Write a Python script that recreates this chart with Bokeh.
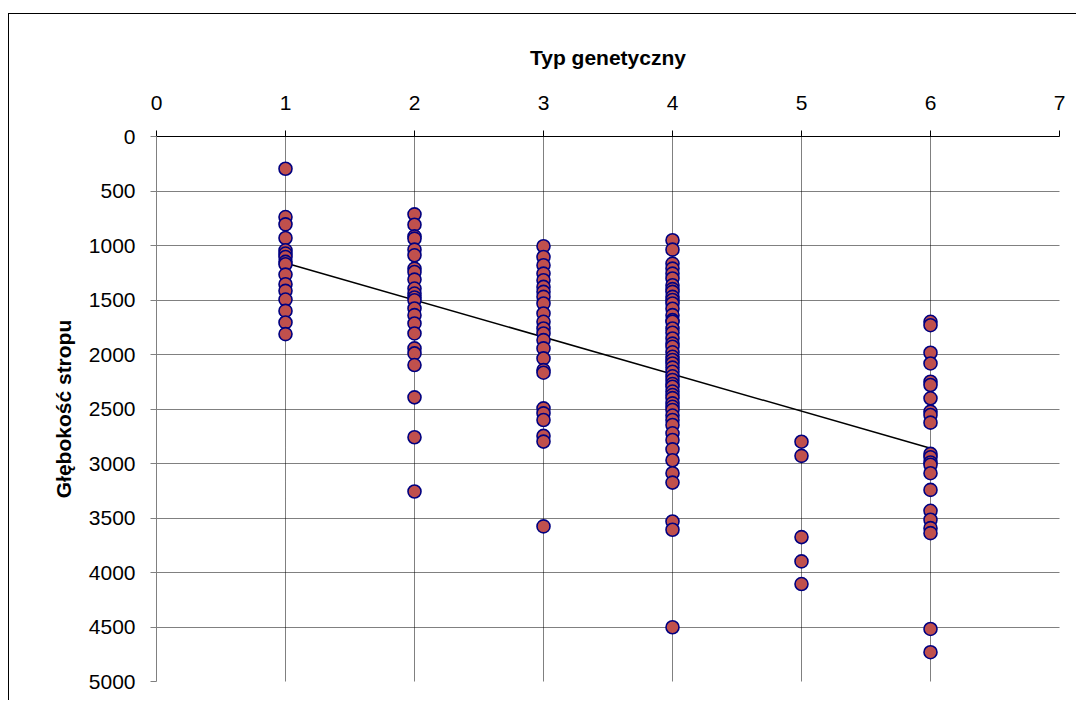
from bokeh.plotting import figure
from bokeh.models import Range1d, FixedTicker, ColumnDataSource
from bokeh.embed import file_html
from bokeh.resources import INLINE

# Depths (Głębokość stropu) for each genetic type (Typ genetyczny)
typ1 = [296, 739, 806, 931, 1044, 1074, 1105, 1150, 1172, 1267, 1355, 1416, 1496, 1600, 1706, 1813]
typ2 = [714, 809, 916, 937, 1038, 1090, 1212, 1243, 1313, 1395, 1441, 1477, 1502, 1578,
        1639, 1715, 1807, 1944, 1990, 2097, 2393, 2759, 3257]
typ3 = [1007, 1105, 1181, 1258, 1319, 1380, 1425, 1471, 1532, 1624, 1700, 1761, 1807,
        1868, 1944, 2036, 2143, 2167, 2494, 2540, 2601, 2747, 2799, 3577]
typ4 = [952, 1038, 1166, 1212, 1258, 1303, 1364, 1400, 1425, 1471, 1500, 1532, 1580, 1639,
        1685, 1700, 1761, 1800, 1853, 1900, 1929, 1980, 2021, 2050, 2082, 2120, 2158, 2200,
        2234, 2270, 2296, 2340, 2372, 2400, 2448, 2480, 2509, 2560, 2601, 2647, 2723, 2784,
        2870, 2970, 3089, 3175, 3532, 3608, 4502]
typ5 = [2800, 2930, 3675, 3898, 4106]
typ6 = [1700, 1731, 1984, 2082, 2250, 2280, 2402, 2524, 2555, 2625, 2912, 2943, 2991,
        3012, 3089, 3242, 3434, 3516, 3593, 3639, 4518, 4731]

groups = [typ1, typ2, typ3, typ4, typ5, typ6]
types = [1, 2, 3, 4, 5, 6]

# linear trend line
trend_x = [1, 6]
trend_y = [1160, 2860]

x_ticks = [0, 1, 2, 3, 4, 5, 6, 7]
y_ticks = [0, 500, 1000, 1500, 2000, 2500, 3000, 3500, 4000, 4500, 5000]

xs, ys = [], []
for t, g in zip(types, groups):
    xs += [t] * len(g)
    ys += g

p = figure(width=1068, height=687, output_backend="svg", toolbar_location=None,
           x_axis_location="above",
           x_range=Range1d(0, 7), y_range=Range1d(5000, 0),
           min_border_left=147, min_border_right=18, min_border_top=122, min_border_bottom=20)
p.styles = {"border-top": "1px solid black", "border-left": "1px solid black",
            "margin-top": "13px", "margin-left": "8px"}
p.outline_line_color = None
p.background_fill_color = "white"
p.border_fill_color = "white"

p.xaxis.ticker = FixedTicker(ticks=x_ticks)
p.yaxis.ticker = FixedTicker(ticks=y_ticks)

for ax in (p.xaxis[0], p.yaxis[0]):
    ax.major_tick_out = 6
    ax.major_tick_in = 0
    ax.minor_tick_line_color = None
    ax.major_label_text_font = "Liberation Sans"
    ax.major_label_text_font_size = "21px"
    ax.major_label_text_color = "black"
    ax.axis_label_text_font = "Liberation Sans"
    ax.axis_label_text_font_size = "21px"
    ax.axis_label_text_font_style = "bold"
    ax.axis_label_text_color = "black"

p.xaxis.axis_label = "Typ genetyczny"
p.xaxis.axis_line_color = "black"
p.xaxis.major_tick_line_color = "black"
p.xaxis.major_label_standoff = 21
p.xaxis.axis_label_standoff = 24

p.yaxis.axis_label = "Głębokość stropu"
p.yaxis.axis_line_color = "#808080"
p.yaxis.major_tick_line_color = "#808080"
p.yaxis.major_label_standoff = 15
p.yaxis.axis_label_standoff = 11

for g in (p.xgrid[0], p.ygrid[0]):
    g.grid_line_color = "black"
    g.grid_line_dash = "1 1"
    g.grid_line_width = 1

src = ColumnDataSource(dict(x=xs, y=ys))
p.line(trend_x, trend_y, line_color="black", line_width=1.5)
p.scatter("x", "y", source=src, size=13, fill_color="#C0504D",
          line_color="#000080", line_width=1.6)

open("out.html", "w").write(file_html(p, INLINE))
